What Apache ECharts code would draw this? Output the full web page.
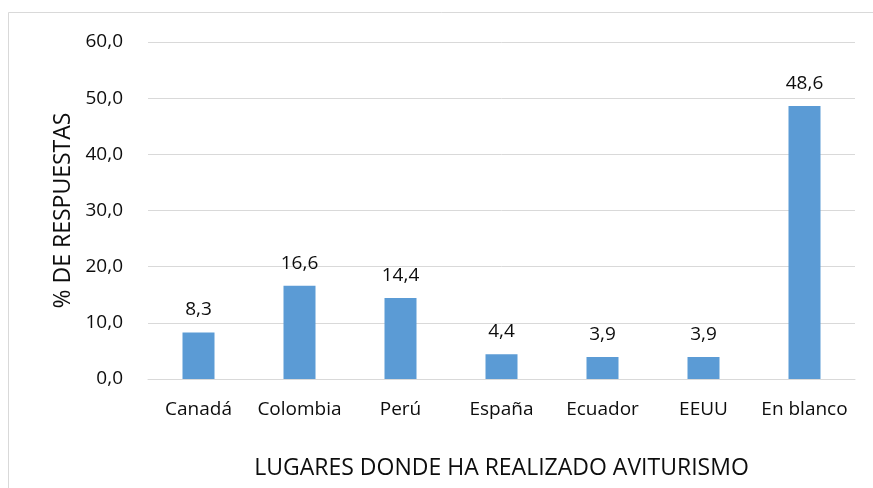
<!DOCTYPE html>
<html>
<head>
<meta charset="utf-8">
<script src="https://cdn.jsdelivr.net/npm/echarts@6/dist/echarts.min.js"></script>
<style>
  html, body { margin: 0; padding: 0; background: #fff; }
  #chart { width: 873px; height: 488px; }
</style>
</head>
<body>
<div id="chart"></div>
<script>
// Places where bird-watching tourism was practised (% of answers)
const categories = ['Canadá', 'Colombia', 'Perú', 'España', 'Ecuador', 'EEUU', 'En blanco'];
const percentages = [8.3, 16.6, 14.4, 4.4, 3.9, 3.9, 48.6];
const yTicks = [0, 10, 20, 30, 40, 50, 60];

const fmt = v => v.toFixed(1).replace('.', ',');
const FONT = '"Open Sans", Lato, sans-serif';
const TEXT = '#0d0d0d';

const chart = echarts.init(document.getElementById('chart'), null, { renderer: 'canvas' });
chart.setOption({
  backgroundColor: '#ffffff',
  animation: false,
  graphic: [{
    type: 'rect',
    shape: { x: 8.5, y: 12.5, width: 880, height: 490 },
    style: { fill: 'none', stroke: '#d9d9d9', lineWidth: 1 },
    silent: true
  }],
  grid: { left: 148, right: 18, top: 42, bottom: 109, containLabel: false, outerBoundsMode: 'none' },
  xAxis: {
    type: 'category',
    data: categories,
    axisLine: { show: true, lineStyle: { color: '#d9d9d9', width: 1 } },
    axisTick: { show: false },
    axisLabel: { color: TEXT, fontSize: 19, fontFamily: FONT, margin: 21, interval: 0 },
    name: 'LUGARES DONDE HA REALIZADO AVITURISMO',
    nameLocation: 'middle',
    nameGap: 78,
    nameTextStyle: { color: TEXT, fontSize: 23, fontFamily: FONT }
  },
  yAxis: {
    type: 'value',
    min: yTicks[0],
    max: yTicks[yTicks.length - 1],
    interval: 10,
    axisLine: { show: false },
    axisTick: { show: false },
    splitLine: { lineStyle: { color: '#d9d9d9', width: 1 } },
    axisLabel: { color: TEXT, fontSize: 19, fontFamily: FONT, margin: 25, formatter: v => fmt(v) },
    name: '% DE RESPUESTAS',
    nameLocation: 'middle',
    nameGap: 73,
    nameRotate: 90,
    nameTextStyle: { color: TEXT, fontSize: 23, fontFamily: FONT }
  },
  series: [{
    type: 'bar',
    data: percentages,
    barWidth: 32,
    itemStyle: { color: '#5b9bd5' },
    label: {
      show: true,
      position: 'top',
      distance: 13,
      color: TEXT,
      fontSize: 19,
      fontFamily: FONT,
      formatter: p => fmt(p.value)
    }
  }]
});
</script>
</body>
</html>
